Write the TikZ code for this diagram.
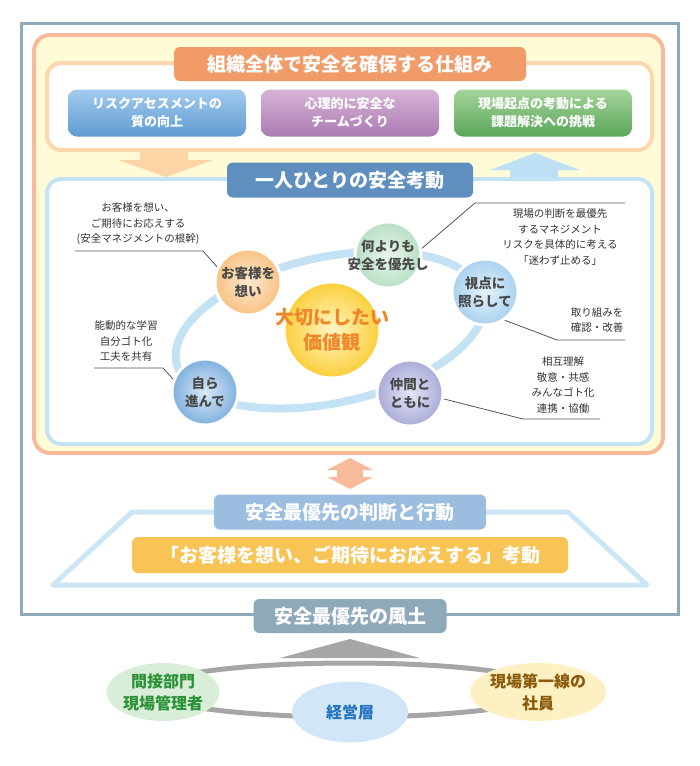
\documentclass[tikz,border=0pt]{standalone}
\usepackage{fontspec}
\setmainfont{Noto Sans CJK JP}
\usetikzlibrary{shapes.geometric}

\definecolor{framegray}{HTML}{8EA9BA}
\definecolor{orangeline}{HTML}{F7BB9C}
\definecolor{creamfill}{HTML}{FFFBD6}
\definecolor{peachline}{HTML}{FCD6AD}
\definecolor{skyline}{HTML}{C3E3F5}
\definecolor{titleorange}{HTML}{F19B69}
\definecolor{titleblue}{HTML}{5F8FBE}
\definecolor{downarrow}{HTML}{FBD5A6}
\definecolor{uparrow}{HTML}{BDE0F4}
\definecolor{actblue}{HTML}{9BBDE0}
\definecolor{actyellow}{HTML}{F8C456}
\definecolor{trapline}{HTML}{CDE6F6}
\definecolor{ringgray}{HTML}{A6A6A6}
\definecolor{txtgray}{HTML}{4A4A4A}
\definecolor{memogray}{HTML}{333333}
\definecolor{linegray}{HTML}{555555}
\definecolor{kachitext}{HTML}{F0862A}
\definecolor{kanset}{HTML}{2B9237}
\definecolor{keiei}{HTML}{2474C2}
\definecolor{genba}{HTML}{8B5A0A}

\begin{document}
\begin{tikzpicture}[x=1pt,y=-1pt]
        \tikzset{
            bar/.style = {rounded corners=6pt, text=white, font=\bfseries\fontsize{19}{22}\selectfont, minimum height=34pt, inner sep=0pt},
            kbox/.style = {rounded corners=9pt, text=white, font=\bfseries\fontsize{13}{18}\selectfont, minimum width=178pt, minimum height=47pt, align=center, inner sep=0pt},
            val/.style = {circle, draw=white, line width=3pt, minimum size=66pt, inner sep=0pt, shading=radial},
            vtext/.style = {align=center, text=txtgray, font=\bfseries\fontsize{13.5}{18}\selectfont, inner sep=0pt},
            memo/.style = {align=center, text=memogray, font=\fontsize{10.5}{15.5}\selectfont, inner sep=0pt},
            lead/.style = {draw=linegray, line width=0.8pt},
            base/.style = {ellipse, minimum width=108pt, minimum height=58pt, inner sep=0pt, align=center, font=\bfseries\fontsize{16}{22}\selectfont},
        }

        \useasboundingbox (0,0) rectangle (700,766);

        % frames
        \draw[framegray, line width=3pt] (21,23) rectangle (678,614);
        \draw[orangeline, fill=creamfill, line width=4pt, rounded corners=16pt] (34,35) rectangle (663,453);

        % arrows between the two blocks
        \fill[downarrow] (140,148) -- (188,148) -- (188,160) -- (213,160) -- (166,177) -- (118,160) -- (140,160) -- cycle;
        \fill[uparrow] (535,153) -- (580,170) -- (558,170) -- (558,181) -- (510,181) -- (510,170) -- (490,170) -- cycle;

        \draw[peachline, fill=white, line width=4pt, rounded corners=14pt] (47,63) rectangle (652,150);
        \draw[skyline, fill=white, line width=4pt, rounded corners=14pt] (47,179) rectangle (652,444);

        \node (shikumi) at (350,64) [bar, fill=titleorange, minimum width=352pt] {組織全体で安全を確保する仕組み};

        \node (risk) at (157,113) [kbox, top color={rgb,255:red,162;green,203;blue,238}, bottom color={rgb,255:red,95;green,156;blue,210}] {リスクアセスメントの\\質の向上};
        \node (shinri) at (350,113) [kbox, top color={rgb,255:red,216;green,180;blue,216}, bottom color={rgb,255:red,169;green,123;blue,177}] {心理的に安全な\\チームづくり};
        \node (kadai) at (543,113) [kbox, top color={rgb,255:red,164;green,213;blue,154}, bottom color={rgb,255:red,90;green,166;blue,90}] {現場起点の考動による\\課題解決への挑戦};

        \node (hitori) at (350,180) [bar, fill=titleblue, minimum width=246pt, minimum height=35pt] {一人ひとりの安全考動};

        % ring of values
        \draw[skyline, line width=8pt, rotate around={12:(330,330)}] (330,330) ellipse [x radius=157, y radius=73];

        \node (kyaku) at (248,282) [val, inner color={rgb,255:red,253;green,233;blue,207}, outer color={rgb,255:red,248;green,194;blue,132}] {};
        \node (nani) at (388,255) [val, inner color={rgb,255:red,233;green,245;blue,236}, outer color={rgb,255:red,184;green,223;blue,197}] {};
        \node (shiten) at (485,292) [val, inner color={rgb,255:red,230;green,242;blue,251}, outer color={rgb,255:red,168;green,209;blue,239}] {};
        \node (nakama) at (410,393) [val, inner color={rgb,255:red,230;green,230;blue,245}, outer color={rgb,255:red,169;green,171;blue,216}] {};
        \node (mizukara) at (205,392) [val, inner color={rgb,255:red,217;green,233;blue,247}, outer color={rgb,255:red,128;green,176;blue,223}] {};
        \node (kachi) at (332,330) [val, minimum size=96pt, inner color={rgb,255:red,255;green,246;blue,198}, outer color={rgb,255:red,251;green,207;blue,58}] {};

        \node (kyakuT) at (kyaku) [vtext] {お客様を\\想い};
        \node (naniT) at (nani) [vtext] {何よりも\\安全を優先し};
        \node (shitenT) at (shiten) [vtext] {視点に\\照らして};
        \node (nakamaT) at (nakama) [vtext] {仲間と\\ともに};
        \node (mizukaraT) at (mizukara) [vtext] {自ら\\進んで};
        \node (kachiT) at (kachi) [vtext, text=kachitext, font=\bfseries\fontsize{19}{25}\selectfont] {大切にしたい\\価値観};

        % notes
        \node (m1) at (138,224) [memo] {お客様を想い、\\ご期待にお応えする\\(安全マネジメントの根幹)};
        \node (m2) at (126,341) [memo] {能動的な学習\\自分ゴト化\\工夫を共有};
        \node (m3) at (560,237) [memo] {現場の判断を最優先\\するマネジメント\\リスクを具体的に考える\\「迷わず止める」};
        \node (m4) at (597,320) [memo] {取り組みを\\確認・改善};
        \node (m5) at (563,385) [memo] {相互理解\\敬意・共感\\みんなゴト化\\連携・協働};

        \coordinate (k1) at (203,251);
        \coordinate (k2) at (75,251);
        \coordinate (j1) at (163,368);
        \coordinate (j2) at (94,368);
        \coordinate (n1) at (475,203);
        \coordinate (n2) at (625,203);
        \coordinate (s1) at (557,340);
        \coordinate (s2) at (625,340);
        \coordinate (t1) at (523,419);
        \coordinate (t2) at (600,419);

        \draw[lead] (kyaku.154) -- (k1) -- (k2);
        \draw[lead] (mizukara.158) -- (j1) -- (j2);
        \draw[lead] (nani.11) -- (n1) -- (n2);
        \draw[lead] (shiten.-55) -- (s1) -- (s2);
        \draw[lead] (nakama.-10) -- (t1) -- (t2);

        % lower part
        \fill[orangeline] (350,458) -- (373,470) -- (363,470) -- (363,477) -- (373,477) -- (350,489) -- (327,477) -- (337,477) -- (337,470) -- (327,470) -- cycle;

        \draw[trapline, line width=5pt, line join=round] (132,512) -- (568,512) -- (647,585) -- (53,585) -- cycle;

        \node (handan) at (350,512) [bar, fill=actblue, minimum width=272pt, minimum height=35pt] {安全最優先の判断と行動};
        \node (kodo) at (350,555) [bar, fill=actyellow, minimum width=436pt, minimum height=36pt] {「お客様を想い、ご期待にお応えする」考動};
        \node (fudo) at (350,616) [bar, fill=framegray, minimum width=193pt, minimum height=34pt] {安全最優先の風土};

        \fill[ringgray] (350,639) -- (420,658) -- (280,658) -- cycle;
        \draw[ringgray, line width=5pt] (350,690) ellipse [x radius=200, y radius=27];

        \node (kansetsu) at (163,692) [base, fill={rgb,255:red,217;green,238;blue,216}, text=kanset] {間接部門\\現場管理者};
        \node (daiichi) at (538,692) [base, fill={rgb,255:red,253;green,241;blue,196}, text=genba] {現場第一線の\\社員};
        \node (keieiso) at (350,712) [base, minimum width=116pt, minimum height=61pt, fill={rgb,255:red,211;green,230;blue,247}, text=keiei] {経営層};

    \end{tikzpicture}
\end{document}
